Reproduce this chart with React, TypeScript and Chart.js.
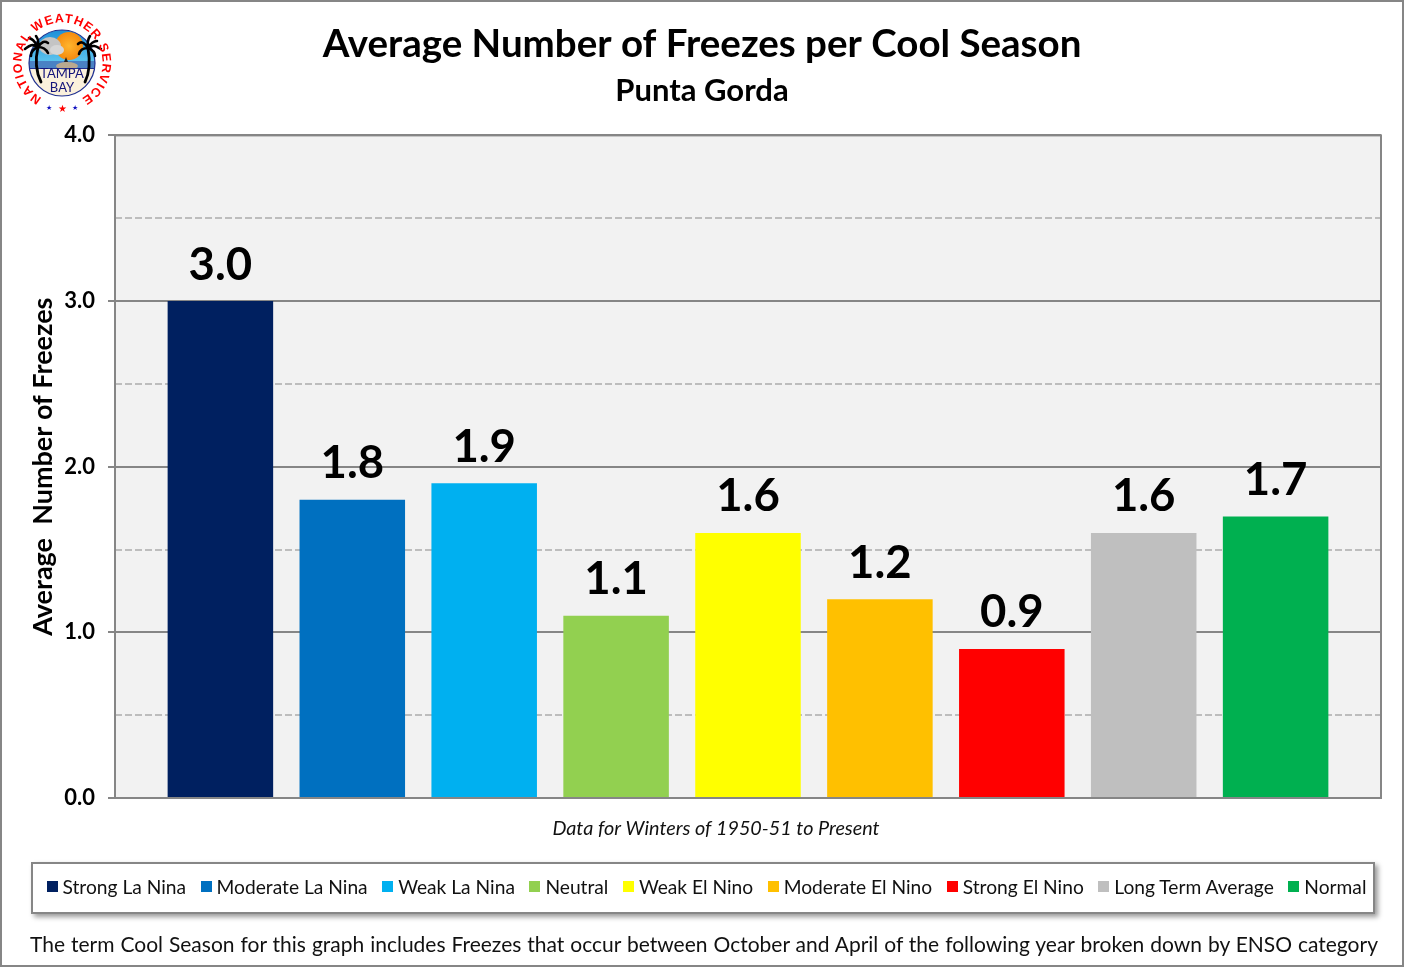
import { useEffect, useRef } from 'react';
import { Chart, registerables } from 'chart.js';

Chart.register(...registerables);

const FONT = 'Lato, "Open Sans", sans-serif';

const seriesNames = [
  'Strong La Nina',
  'Moderate La Nina',
  'Weak La Nina',
  'Neutral',
  'Weak El Nino',
  'Moderate El Nino',
  'Strong El Nino',
  'Long Term Average',
  'Normal',
];
const seriesValues = [3.0, 1.8, 1.9, 1.1, 1.6, 1.2, 0.9, 1.6, 1.7];
const seriesColors = [
  '#002060',
  '#0070C0',
  '#00B0F0',
  '#92D050',
  '#FFFF00',
  '#FFC000',
  '#FF0000',
  '#BFBFBF',
  '#00B050',
];

const titleText = 'Average Number of Freezes per Cool Season';
const subtitleText = 'Punta Gorda';
const yAxisTitle = 'Average  Number of Freezes';
const xNote = 'Data for Winters of 1950-51 to Present';
const footerText =
  'The term Cool Season for this graph includes Freezes that occur between October and April of the following year broken down by ENSO category';

// plot background, frame, value labels and the note under the axis
const decorations = {
  id: 'decorations',
  beforeDraw(chart: Chart) {
    const { ctx, chartArea: a } = chart;
    ctx.save();
    ctx.fillStyle = '#F2F2F2';
    ctx.fillRect(a.left, a.top, a.right - a.left, a.bottom - a.top);
    ctx.restore();
  },
  afterDraw(chart: Chart) {
    const { ctx, chartArea: a } = chart;
    ctx.save();
    ctx.strokeStyle = '#868686';
    ctx.lineWidth = 2;
    ctx.strokeRect(a.left, a.top, a.right - a.left, a.bottom - a.top);

    ctx.fillStyle = '#000';
    ctx.textAlign = 'center';
    ctx.textBaseline = 'alphabetic';
    ctx.font = `bold 45.5px ${FONT}`;
    chart.data.datasets.forEach((ds, i) => {
      const bar = chart.getDatasetMeta(i).data[0];
      ctx.fillText((ds.data[0] as number).toFixed(1), bar.x, bar.y - 21.5);
    });

    ctx.font = `italic 19.8px ${FONT}`;
    ctx.fillStyle = '#111';
    ctx.fillText(xNote, 716, 835);
    ctx.restore();
  },
};

function Logo() {
  return (
    <svg
      width={124}
      height={124}
      viewBox="0 0 124 124"
      style={{ position: 'absolute', left: 0, top: 0 }}
    >
      <defs>
        <clipPath id="logoClip">
          <circle cx={62} cy={63} r={33} />
        </clipPath>
        <linearGradient id="logoSky" x1="0" y1="0" x2="0" y2="1">
          <stop offset="0" stopColor="#1E8FD8" />
          <stop offset="1" stopColor="#5CC4EE" />
        </linearGradient>
        <radialGradient id="logoSun">
          <stop offset="0" stopColor="#FFB52E" />
          <stop offset="1" stopColor="#F58A0E" />
        </radialGradient>
      </defs>
      <g clipPath="url(#logoClip)">
        <rect x={29} y={30} width={66} height={32} fill="url(#logoSky)" />
        <circle cx={69} cy={46} r={14} fill="url(#logoSun)" />
        <ellipse cx={50} cy={46} rx={11} ry={9} fill="#C4C4C4" />
        <ellipse cx={57} cy={50} rx={7} ry={5} fill="#D6D6D6" />
        <rect x={29} y={61} width={66} height={8} fill="#4A82C4" />
        <rect x={29} y={68} width={66} height={30} fill="#FBF1DC" />
        <ellipse cx={67} cy={66} rx={11} ry={4} fill="#B9A98F" />
        <path d="M64 62 L66 57 L68 62 Z" fill="#222" />
      </g>
      <circle cx={62} cy={63} r={33} fill="none" stroke="#20308F" strokeWidth={1.2} />
      <line x1={30} y1={68.5} x2={94} y2={68.5} stroke="#20308F" strokeWidth={1} />
      <g stroke="#000" fill="none" strokeLinecap="round">
        <path d="M38 47 C35 60 36 72 41 82" strokeWidth={2.8} />
        <path d="M88 48 C90 60 90 72 85 82" strokeWidth={2.8} />
        <path
          d="M38 47 C32 43 29 46 25 49 M38 47 C34 40 32 39 29 38 M38 47 C39 41 38 39 36 36 M38 47 C42 41 45 41 48 43 M38 47 C43 47 46 49 48 53 M38 47 C33 49 31 53 31 56"
          strokeWidth={2.6}
        />
        <path
          d="M88 48 C94 44 97 47 101 49 M88 48 C92 41 95 41 97 41 M88 48 C87 42 88 39 90 36 M88 48 C84 42 81 41 78 44 M88 48 C83 48 80 50 79 54 M88 48 C93 50 95 53 95 56"
          strokeWidth={2.6}
        />
      </g>
      <text x={62} y={78} textAnchor="middle" fontFamily={FONT} fontSize={13} fill="#14147A">
        TAMPA
      </text>
      <text x={62} y={92} textAnchor="middle" fontFamily={FONT} fontSize={13} fill="#14147A">
        BAY
      </text>
      <path id="logoRing" d="M41.8 98 A40.5 40.5 0 1 1 82.2 98" fill="none" />
      <text
        fontFamily='"Liberation Sans Narrow", "Liberation Sans", sans-serif'
        fontWeight="bold"
        fontSize={12.5}
        fill="#F00"
      >
        <textPath href="#logoRing" textLength={212} lengthAdjust="spacing">
          NATIONAL WEATHER SERVICE
        </textPath>
      </text>
      <text x={49} y={110} textAnchor="middle" fontSize={7} fill="#1010C0">
        ★
      </text>
      <text x={62} y={112} textAnchor="middle" fontSize={10} fill="#F00">
        ★
      </text>
      <text x={75} y={110} textAnchor="middle" fontSize={7} fill="#1010C0">
        ★
      </text>
    </svg>
  );
}

export default function App() {
  const canvasRef = useRef<HTMLCanvasElement>(null);

  useEffect(() => {
    document.body.style.margin = '0';
    if (!canvasRef.current) return;
    const chart = new Chart(canvasRef.current, {
      type: 'bar',
      data: {
        labels: [''],
        datasets: seriesNames.map((name, i) => ({
          label: name,
          data: [seriesValues[i]],
          backgroundColor: seriesColors[i],
          categoryPercentage: 0.9377,
          barPercentage: 0.8,
        })),
      },
      plugins: [decorations],
      options: {
        responsive: false,
        animation: false,
        layout: { padding: { top: 21, right: 23, bottom: 161, left: 23 } },
        plugins: {
          legend: { display: false },
          tooltip: { enabled: false },
          title: {
            display: true,
            text: titleText,
            color: '#000',
            font: { family: FONT, size: 38.5, weight: 'bold' },
            padding: { top: 0, bottom: 5 },
          },
          subtitle: {
            display: true,
            text: subtitleText,
            color: '#000',
            font: { family: FONT, size: 31, weight: 'bold' },
            padding: { top: 0, bottom: 26 },
          },
        },
        scales: {
          x: {
            ticks: { display: false },
            grid: { display: false },
            border: { display: false },
          },
          y: {
            min: 0,
            max: 4,
            afterFit(scale) {
              scale.width = 92;
            },
            title: {
              display: true,
              text: yAxisTitle,
              color: '#000',
              font: { family: FONT, size: 27, weight: 'bold' },
              padding: { top: 4, bottom: 0 },
            },
            ticks: {
              stepSize: 0.5,
              padding: 13,
              color: '#000',
              font: { family: FONT, size: 22, weight: 'bold' },
              callback: (v) => (Number(v) % 1 === 0 ? Number(v).toFixed(1) : ''),
            },
            grid: {
              color: (c) => (c.tick.value % 1 === 0 ? '#868686' : '#BDBDBD'),
              lineWidth: 2,
              tickColor: (c) => (c.tick.value % 1 === 0 ? '#868686' : 'transparent'),
              tickLength: 7,
            },
            border: {
              display: false,
              dash: (c) => (c.tick.value % 1 === 0 ? [] : [7, 3]),
            },
          },
        },
      },
    });
    return () => chart.destroy();
  }, []);

  return (
    <div
      style={{
        position: 'relative',
        width: 1404,
        height: 967,
        boxSizing: 'border-box',
        border: '2px solid #868686',
        background: '#fff',
        overflow: 'hidden',
      }}
    >
      <canvas
        ref={canvasRef}
        width={1404}
        height={967}
        style={{ position: 'absolute', left: -2, top: -2 }}
      />
      <div style={{ position: 'absolute', left: -2, top: -2 }}>
        <Logo />
      </div>
      <div
        style={{
          position: 'absolute',
          left: 28.5,
          top: 859.5,
          width: 1344,
          height: 52,
          boxSizing: 'border-box',
          border: '2px solid #868686',
          boxShadow: '3px 3px 5px rgba(0,0,0,0.4)',
          background: '#fff',
          padding: '0 6px 3px 14px',
          display: 'flex',
          alignItems: 'center',
          justifyContent: 'space-between',
          fontFamily: FONT,
          fontSize: 19.2,
          color: '#111',
        }}
      >
        {seriesNames.map((name, i) => (
          <span key={name} style={{ display: 'flex', alignItems: 'center', whiteSpace: 'nowrap' }}>
            <i
              style={{
                width: 11,
                height: 11,
                marginRight: 5,
                background: seriesColors[i],
                display: 'inline-block',
              }}
            />
            {name}
          </span>
        ))}
      </div>
      <div
        style={{
          position: 'absolute',
          left: 28,
          top: 929,
          width: 1348,
          fontFamily: FONT,
          fontSize: 21,
          color: '#111',
          whiteSpace: 'nowrap',
          textAlign: 'justify',
          textAlignLast: 'justify',
        }}
      >
        {footerText}
      </div>
    </div>
  );
}
